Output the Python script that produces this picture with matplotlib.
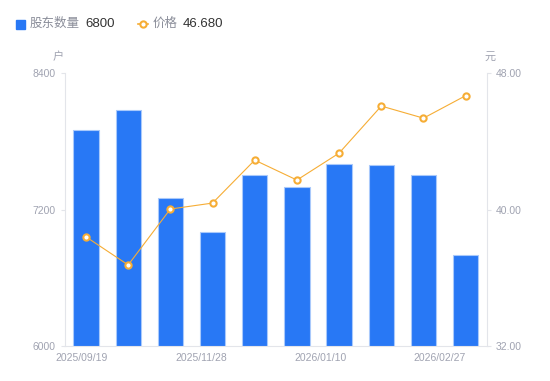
import numpy as np
import matplotlib.pyplot as plt
from matplotlib.lines import Line2D
from matplotlib.patches import Rectangle

plt.rcParams['font.family'] = ['Liberation Sans', 'Noto Sans CJK SC', 'DejaVu Sans']

# data
dates = ['2025/09/19', '2025/09/30', '2025/10/31', '2025/11/28', '2025/12/10',
         '2025/12/31', '2026/01/10', '2026/01/20', '2026/01/31', '2026/02/27']
holders = [7900, 8080, 7300, 7000, 7500, 7400, 7600, 7595, 7500, 6800]
price = [38.40, 36.75, 40.03, 40.38, 42.90, 41.73, 43.31, 46.07, 45.36, 46.68]

blue = '#2878f5'
orange = '#f6ad35'
grey = '#a0a3b1'
axis_c = '#e3e5ea'

fig = plt.figure(figsize=(5.5, 3.81), dpi=100)
ax = fig.add_axes([0.118, 0.092, 0.767, 0.716])
ax2 = ax.twinx()

x = np.arange(len(dates))
ax.bar(x, holders, width=0.6, color=blue, edgecolor='#a9c9fb', linewidth=0.8, zorder=2)
ax.set_ylim(6000, 8400)
ax.set_yticks([6000, 7200, 8400])
ax.set_xlim(-0.5, len(dates) - 0.5)

ax2.plot(x, price, color=orange, lw=0.8, marker='o', ms=4.5, mfc='white',
         mec=orange, mew=1.5, zorder=3)
ax2.set_ylim(32, 48)
ax2.set_yticks([32, 40, 48])
ax2.set_yticklabels(['32.00', '40.00', '48.00'])

# x labels: every third date, spread as in the original
idx = [0, 3, 6, 9]
ax.set_xticks(np.linspace(-0.1, 8.39, 4))
ax.set_xticklabels([dates[i] for i in idx])

for a in (ax, ax2):
    for s in a.spines.values():
        s.set_visible(False)
    a.tick_params(colors=grey, labelsize=7.5, length=3, width=0.8)
    a.tick_params(axis='y', color=axis_c)
ax.tick_params(axis='x', length=0, pad=5)
ax.spines['left'].set_visible(True)
ax.spines['left'].set_color(axis_c)
ax.spines['bottom'].set_visible(True)
ax.spines['bottom'].set_color(axis_c)
ax2.spines['right'].set_visible(True)
ax2.spines['right'].set_color(axis_c)
ax.set_zorder(1)
ax2.set_zorder(2)
ax.patch.set_visible(False)

# axis units
fig.text(58 / 550, 1 - 57 / 381, '户', color=grey, fontsize=8, ha='center', va='center')
fig.text(490 / 550, 1 - 57 / 381, '元', color=grey, fontsize=8, ha='center', va='center')

# legend
fig.patches.append(Rectangle((16 / 550, 1 - 29 / 381), 9 / 550, 9 / 381,
                             transform=fig.transFigure, color=blue, figure=fig))
fig.text(30 / 550, 1 - 24 / 381, '股东数量', color='#8a8d99', fontsize=9, va='center')
fig.text(85 / 550, 1 - 24 / 381, '6800', color='#333333', fontsize=9.5, va='center')
fig.lines.append(Line2D([138 / 550, 148 / 550], [1 - 24 / 381] * 2, transform=fig.transFigure,
                        color=orange, lw=1.2))
fig.lines.append(Line2D([143 / 550], [1 - 24 / 381], transform=fig.transFigure,
                        color=orange, marker='o', ms=4.5, mfc='white', mew=1.5))
fig.text(153 / 550, 1 - 24 / 381, '价格', color='#8a8d99', fontsize=9, va='center')
fig.text(183 / 550, 1 - 24 / 381, '46.680', color='#333333', fontsize=9.5, va='center')

fig.savefig('out.png', dpi=100)
